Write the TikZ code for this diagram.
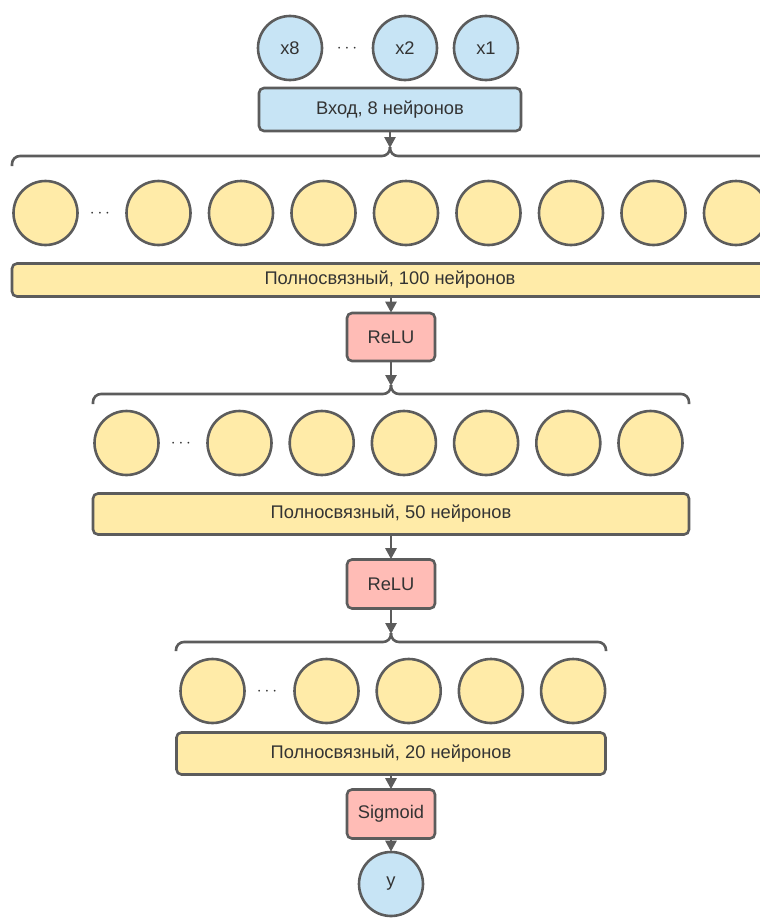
\documentclass[tikz,border=0pt]{standalone}
\usepackage{fontspec}
\setmainfont{Liberation Sans}
\usetikzlibrary{arrows.meta}
\definecolor{inblue}{RGB}{199,228,245}
\definecolor{neuyel}{RGB}{255,235,168}
\definecolor{actred}{RGB}{255,188,182}
\definecolor{strk}{RGB}{92,92,92}
\definecolor{txt}{RGB}{51,51,51}
\tikzset{
  neuron/.style={circle,draw=strk,line width=2.6pt,minimum size=64pt,inner sep=0pt,font=\fontsize{18.3}{20}\selectfont,text=txt},
  inneuron/.style={neuron,fill=inblue},
  hidneuron/.style={neuron,fill=neuyel},
  layerbox/.style={draw=strk,line width=2.6pt,rounded corners=5pt,inner sep=0pt,font=\fontsize{18.3}{20}\selectfont,text=txt},
  actbox/.style={layerbox,fill=actred,minimum width=88pt,minimum height=48pt},
  conn/.style={draw=strk,line width=2.6pt,-{Triangle[width=11pt,length=11pt]},shorten >=-1pt},
  bracepath/.style={draw=strk,line width=2.6pt,rounded corners=8pt},
  dotsnode/.style={font=\fontsize{18}{20}\selectfont,text=txt,inner sep=0pt}
}
\begin{document}
\begin{tikzpicture}[x=1pt,y=-1pt]
\useasboundingbox (0,0) rectangle (760,918);
\clip (0,0) rectangle (760,918);
% input
\node[inneuron] (x8) at (290,48) {x8};
\node[dotsnode] (dIn) at (347,49) {$\cdots$};
\node[inneuron] (x2) at (405,48) {x2};
\node[inneuron] (x1) at (486,48) {x1};
\node[layerbox,fill=inblue,minimum width=262pt,minimum height=43pt] (inp) at (390,109.5) {Вход, 8 нейронов};
% brace 1
\coordinate (b1tip) at (390,147);
\path[bracepath] (390,147) -- (390,156) -- (12,156) -- (12,166);
\path[bracepath] (390,147) -- (390,156) -- (768,156) -- (768,166);
\draw[conn] (inp.south) -- (b1tip);
% row 1
\node[hidneuron] (a0) at (45.5,213) {};
\node[dotsnode] (dA) at (100,214) {$\cdots$};
\foreach \k in {1,...,8} {
  \node[hidneuron] (a\k) at ({158.5+82.5*(\k-1)},213) {};
}
\node[layerbox,fill=neuyel,minimum width=756pt,minimum height=33pt] (fc1) at (390,280) {Полносвязный, 100 нейронов};
\node[actbox] (relu1) at (391,337) {ReLU};
\draw[conn] (fc1.south -| relu1.north) -- (relu1.north);
% brace 2
\coordinate (b2tip) at (391,385);
\path[bracepath] (391,385) -- (391,394) -- (93,394) -- (93,404);
\path[bracepath] (391,385) -- (391,394) -- (689,394) -- (689,404);
\draw[conn] (relu1.south) -- (b2tip);
% row 2
\node[hidneuron] (b0) at (126.5,443) {};
\node[dotsnode] (dB) at (181,444) {$\cdots$};
\foreach \k in {1,...,6} {
  \node[hidneuron] (b\k) at ({239.5+82.2*(\k-1)},443) {};
}
\node[layerbox,fill=neuyel,minimum width=596pt,minimum height=41pt] (fc2) at (391,514) {Полносвязный, 50 нейронов};
\node[actbox,minimum height=49pt] (relu2) at (391,584) {ReLU};
\draw[conn] (fc2.south -| relu2.north) -- (relu2.north);
% brace 3
\coordinate (b3tip) at (391,633);
\path[bracepath] (391,633) -- (391,642) -- (176,642) -- (176,651);
\path[bracepath] (391,633) -- (391,642) -- (606,642) -- (606,651);
\draw[conn] (relu2.south) -- (b3tip);
% row 3
\node[hidneuron] (c0) at (212.5,691) {};
\node[dotsnode] (dC) at (267,692) {$\cdots$};
\foreach \k in {1,...,4} {
  \node[hidneuron] (c\k) at ({326.5+82.2*(\k-1)},691) {};
}
\node[layerbox,fill=neuyel,minimum width=429pt,minimum height=42pt] (fc3) at (391,753.5) {Полносвязный, 20 нейронов};
\node[actbox,minimum height=49pt] (sig) at (391,814) {Sigmoid};
\draw[conn] (fc3.south -| sig.north) -- (sig.north);
\node[inneuron] (y) at (391,884) {y};
\draw[conn] (sig.south) -- (y.north);
\end{tikzpicture}
\end{document}
